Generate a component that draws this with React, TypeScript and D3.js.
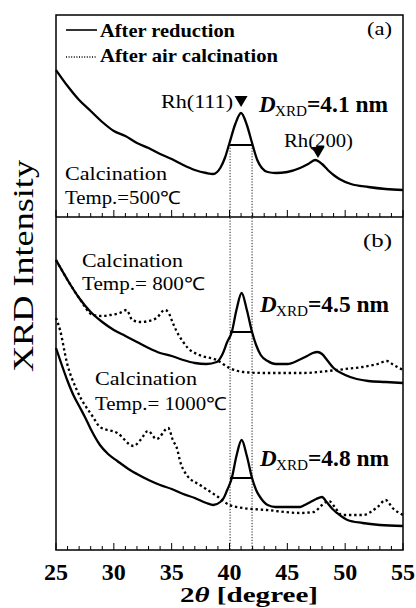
import React from "react";
import * as d3 from "d3";

// ---- Data (2θ in degrees, intensity in arbitrary stacked units) ----
const majorTicks = [25, 30, 35, 40, 45, 50, 55];
const tickLabels = ["25", "30", "35", "40", "45", "50", "55"];

// (a) 500 ℃, after reduction
const thetaA = [25.0, 26.0, 27.0, 28.0, 29.0, 30.0, 31.0, 32.0, 33.0, 34.0, 35.0, 36.0, 37.0, 38.0, 38.6, 39.2, 39.6, 40.0, 40.5, 41.0, 41.5, 41.95, 42.4, 42.8, 43.3, 44.0, 45.0, 46.1, 46.8, 47.4, 48.0, 48.5, 49.0, 49.5, 50.5, 52.0, 53.5, 55.0];
const redA = [480, 464, 450, 439, 428, 419, 414, 407, 402, 396, 391, 385, 380, 377, 376, 382, 392, 407, 426, 437, 425, 407, 390, 382, 378, 377, 378, 382, 386, 390, 386, 380, 375, 371, 366, 363, 361, 360];

// (b) 800 ℃, after reduction
const theta800 = [25.0, 25.5, 26.0, 27.0, 28.0, 29.0, 30.0, 31.0, 32.0, 33.0, 34.0, 35.0, 36.0, 37.0, 38.0, 38.9, 39.4, 39.8, 40.2, 40.6, 41.05, 41.5, 41.95, 42.3, 42.7, 43.3, 44.0, 45.0, 46.0, 46.7, 47.2, 47.6, 48.0, 48.5, 49.0, 50.0, 51.0, 52.0, 53.5, 55.0];
const red800 = [290, 280, 270, 252, 238, 228, 220, 214, 208, 202, 197, 194, 190, 187, 186, 188, 196, 208, 218, 240, 257, 240, 218, 205, 195, 189, 186, 186, 190, 194, 197, 198, 196, 189, 182, 175, 171, 169, 168, 167];

// (b) 800 ℃, after air calcination
const thetaCal800 = [25.0, 26.0, 27.0, 28.2, 29.0, 29.7, 30.5, 31.1, 31.6, 32.4, 33.0, 33.7, 34.4, 34.7, 35.1, 35.6, 36.0, 36.4, 37.4, 38.9, 40.0, 41.2, 43.0, 45.0, 46.5, 48.5, 50.0, 51.5, 52.8, 53.6, 54.2, 55.0];
const cal800 = [290, 270, 252, 235, 234, 235, 237, 240, 230, 228, 229, 232, 240, 238, 227, 215, 208, 202, 195, 190, 182, 178, 177, 177, 177, 179, 181, 183, 186, 189, 185, 180];

// (b) 1000 ℃, after reduction
const theta1000 = [25.0, 25.5, 26.0, 26.5, 27.0, 27.5, 28.0, 28.8, 29.5, 30.3, 31.4, 32.0, 33.0, 34.0, 35.0, 36.0, 37.0, 38.0, 38.6, 39.2, 39.5, 39.8, 40.2, 40.6, 41.05, 41.5, 41.95, 42.3, 42.7, 43.3, 44.0, 45.0, 46.1, 46.5, 47.0, 47.5, 48.0, 48.4, 48.9, 49.3, 50.2, 51.5, 53.0, 55.0];
const red1000 = [202, 185, 169, 155, 144, 133, 121, 105, 96, 89, 80, 76, 70, 65, 61, 56, 52, 47, 45, 48, 52, 60, 72, 94, 110, 94, 72, 60, 52, 45, 43, 43, 43, 45, 48, 51, 53, 48, 41, 37, 30, 27, 25, 24];

// (b) 1000 ℃, after air calcination
const thetaCal1000 = [25.0, 25.35, 25.95, 26.8, 28.2, 28.8, 30.3, 31.7, 32.3, 32.95, 33.7, 34.7, 35.1, 35.5, 35.7, 36.3, 37.45, 38.9, 40.0, 41.2, 43.2, 46.1, 47.3, 48.0, 48.6, 49.1, 49.7, 51.5, 52.8, 53.5, 54.1, 55.0];
const cal1000 = [232, 220, 187, 160, 133, 123, 117, 104, 110, 119, 111, 122, 110, 100, 90, 75, 65, 54, 45, 42, 40, 37, 38, 45, 49, 43, 35, 35, 43, 50, 42, 35];

// FWHM of Rh(111)
const fwhmLo = 40.05;
const fwhmHi = 41.95;
const fwhmLevels = [405, 218, 72];
const dxrdLabels = ["4.1 nm", "4.5 nm", "4.8 nm"];

// Peak markers
const peakNames = ["Rh(111)", "Rh(200)"];
const peakTheta = [41.0, 47.65];
const peakMarkY = [443, 392];

const FONT = "'Liberation Serif', serif";

const x = d3.scaleLinear().domain([25, 55]).range([56, 403]);
const y = d3.scaleLinear().domain([0, 535]).range([550, 15]);

const line = d3
  .line<[number, number]>()
  .x((d) => x(d[0]))
  .y((d) => y(d[1]))
  .curve(d3.curveMonotoneX);

const zip = (a: number[], b: number[]) => a.map((v, i) => [v, b[i]] as [number, number]);

type TP = {
  x: number;
  y: number;
  w?: number;
  size: number;
  bold?: boolean;
  italic?: boolean;
  anchor?: "start" | "middle" | "end";
  children: React.ReactNode;
};
function T({ x, y, w, size, bold, italic, anchor, children }: TP) {
  return (
    <text
      x={x}
      y={y}
      style={{ fontFamily: FONT }}
      fontSize={size}
      fontWeight={bold ? "bold" : "normal"}
      fontStyle={italic ? "italic" : "normal"}
      textAnchor={anchor || "start"}
      textLength={w}
      lengthAdjust={w ? "spacingAndGlyphs" : undefined}
      fill="#000"
    >
      {children}
    </text>
  );
}

function Dxrd({ xs, base, value }: { xs: number; base: number; value: string }) {
  return (
    <g>
      <T x={xs} y={base} size={23} bold italic>D</T>
      <T x={xs + 16} y={base + 4} size={15} w={32}>XRD</T>
      <T x={xs + 48} y={base} size={23} bold w={81}>{"=" + value}</T>
    </g>
  );
}

export default function App() {
  const minorTicks = d3.range(25, 56, 1);
  const solid = { fill: "none", stroke: "#000", strokeWidth: 2.3, strokeLinejoin: "round" as const };
  const dotted = { fill: "none", stroke: "#000", strokeWidth: 2.3, strokeDasharray: "2.4,2.8" };
  const panelBottoms = [217, 550];

  return (
    <svg
      width={416}
      height={608}
      viewBox="0 0 416 608"
      style={{ position: "fixed", left: 0, top: 0, background: "#fff" }}
    >
      <rect x={0} y={0} width={416} height={608} fill="#fff" />

      {/* vertical FWHM guides */}
      {[fwhmLo, fwhmHi].map((t, i) => (
        <line key={i} x1={x(t)} x2={x(t)} y1={y(fwhmLevels[0])} y2={y(0)} stroke="#000" strokeWidth={0.9} strokeDasharray="1.2,1.6" />
      ))}

      {/* curves */}
      <path d={line(zip(thetaA, redA)) || ""} {...solid} />
      <path d={line(zip(thetaCal800, cal800)) || ""} {...dotted} />
      <path d={line(zip(theta800, red800)) || ""} {...solid} />
      <path d={line(zip(thetaCal1000, cal1000)) || ""} {...dotted} />
      <path d={line(zip(theta1000, red1000)) || ""} {...solid} />

      {/* FWHM bars */}
      {fwhmLevels.map((lv, i) => (
        <line key={i} x1={x(fwhmLo)} x2={x(fwhmHi)} y1={y(lv)} y2={y(lv)} stroke="#000" strokeWidth={2} />
      ))}

      {/* frame */}
      <rect x={x(25)} y={y(535)} width={x(55) - x(25)} height={y(0) - y(535)} fill="none" stroke="#000" strokeWidth={1.5} />
      <line x1={x(25)} x2={x(55)} y1={217} y2={217} stroke="#000" strokeWidth={1.5} />

      {/* ticks */}
      {panelBottoms.map((pb, j) => (
        <g key={j}>
          {minorTicks.map((t) => {
            const major = t % 5 === 0;
            return (
              <line key={t} x1={x(t)} x2={x(t)} y1={pb} y2={pb - (major ? 7 : 4)} stroke="#000" strokeWidth={1} />
            );
          })}
        </g>
      ))}

      {/* tick labels */}
      {majorTicks.map((t, i) => (
        <T key={t} x={x(t)} y={580} size={24} bold anchor="middle">{tickLabels[i]}</T>
      ))}

      {/* axis titles */}
      <text x={249} y={602} style={{ fontFamily: FONT }} fontSize={20} fontWeight="bold" textAnchor="middle" textLength={138} lengthAdjust="spacingAndGlyphs">
        2<tspan fontStyle="italic">θ</tspan>{"  [degree]"}
      </text>
      <text
        transform="translate(33,266) rotate(-90)"
        x={0}
        y={0}
        style={{ fontFamily: FONT }}
        fontSize={29}
        textAnchor="middle"
        textLength={212}
        lengthAdjust="spacingAndGlyphs"
      >
        XRD Intensity
      </text>

      {/* legend */}
      <line x1={66} x2={97} y1={30} y2={30} stroke="#000" strokeWidth={1.6} />
      <T x={100} y={37} size={19} bold w={135}>After reduction</T>
      <line x1={66} x2={97} y1={57} y2={57} stroke="#000" strokeWidth={1.4} strokeDasharray="1,1.6" />
      <T x={100} y={62} size={19} bold w={178}>After air calcination</T>

      {/* panel labels */}
      <T x={367} y={35} size={19} w={25}>(a)</T>
      <T x={363} y={247} size={19} w={29}>(b)</T>

      {/* peak markers */}
      {peakTheta.map((t, i) => (
        <path
          key={i}
          d="M -6.5,-11 L 6.5,-11 L 0,0 Z"
          transform={`translate(${x(t)},${y(peakMarkY[i])})`}
          fill="#000"
        />
      ))}
      <T x={233} y={108} size={18} w={72} anchor="end">{peakNames[0]}</T>
      <T x={284} y={147} size={18} w={69}>{peakNames[1]}</T>

      {/* D_XRD labels */}
      <Dxrd xs={259} base={112} value={dxrdLabels[0]} />
      <Dxrd xs={260} base={312} value={dxrdLabels[1]} />
      <Dxrd xs={260} base={466} value={dxrdLabels[2]} />

      {/* calcination labels */}
      <T x={65} y={180} size={18} w={102}>Calcination</T>
      <T x={65} y={204} size={18} w={116}>Temp.=500℃</T>
      <T x={82} y={267} size={18} w={101}>Calcination</T>
      <T x={82} y={290} size={18} w={123}>Temp.= 800℃</T>
      <T x={95} y={385} size={18} w={102}>Calcination</T>
      <T x={95} y={410} size={18} w={132}>Temp.= 1000℃</T>
    </svg>
  );
}
